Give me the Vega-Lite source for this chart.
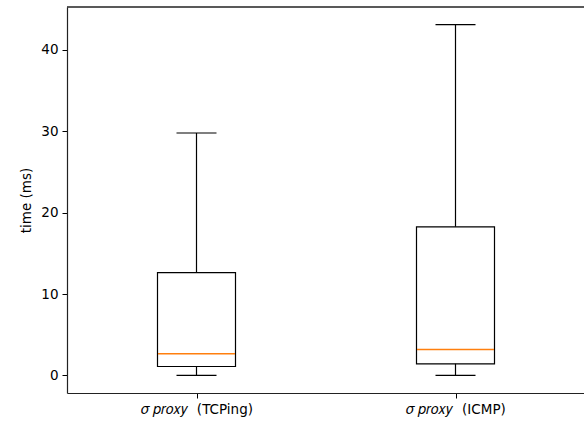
{
  "$schema": "https://vega.github.io/schema/vega-lite/v6.json",
  "width": 517,
  "height": 386,
  "autosize": {"type": "none"},
  "padding": {"left": 67, "top": 7, "right": 0, "bottom": 31},
  "background": "white",
  "config": {
    "view": {"stroke": null},
    "font": "DejaVu Sans",
    "axis": {
      "domain": true,
      "domainColor": "#222",
      "domainWidth": 1.2,
      "grid": false,
      "tickColor": "#000",
      "tickSize": 5,
      "tickWidth": 1,
      "labelPadding": 4,
      "labelFont": "DejaVu Sans",
      "labelFontSize": 13.5,
      "labelColor": "#000",
      "titleFont": "DejaVu Sans",
      "titleFontSize": 13.5,
      "titleFontWeight": "normal",
      "titleColor": "#000"
    }
  },
  "data": {
    "values": [
      {"method": "𝜎 𝑝𝑟𝑜𝑥𝑦\u00a0\u00a0(TCPing)", "lower": 0, "q1": 1.1, "median": 2.66, "q3": 12.64, "upper": 29.78},
      {"method": "𝜎 𝑝𝑟𝑜𝑥𝑦\u00a0\u00a0(ICMP)", "lower": 0, "q1": 1.43, "median": 3.19, "q3": 18.25, "upper": 43.1}
    ]
  },
  "encoding": {
    "x": {
      "field": "method",
      "type": "nominal",
      "sort": null,
      "scale": {"type": "point", "padding": 0.5, "range": [0, 518]},
      "axis": {"title": null, "labelAngle": 0}
    }
  },
  "layer": [
    {
      "mark": {"type": "rule", "color": "#000", "strokeWidth": 1.2},
      "encoding": {
        "y": {
          "field": "lower",
          "type": "quantitative",
          "scale": {"domain": [-2.155, 45.255], "nice": false, "zero": false},
          "axis": {"title": "time (ms)", "values": [0, 10, 20, 30, 40], "titlePadding": 7, "orient": "left"}
        },
        "y2": {"field": "upper"}
      }
    },
    {
      "mark": {"type": "rule", "color": "#222", "strokeWidth": 1.2},
      "encoding": {
        "x": null,
        "y": {"datum": 45.255, "type": "quantitative", "axis": {"orient": "left", "title": "time (ms)", "values": [0, 10, 20, 30, 40], "titlePadding": 7}}
      }
    },
    {
      "mark": {"type": "bar", "fill": "white", "stroke": "#000", "strokeWidth": 1.2, "size": 78},
      "encoding": {
        "y": {"field": "q1", "type": "quantitative"},
        "y2": {"field": "q3"}
      }
    },
    {
      "mark": {"type": "tick", "color": "#ff7f0e", "size": 77, "thickness": 1.5, "opacity": 1},
      "encoding": {"y": {"field": "median", "type": "quantitative"}}
    },
    {
      "mark": {"type": "tick", "color": "#000", "size": 40, "thickness": 1.2, "opacity": 1},
      "encoding": {"y": {"field": "lower", "type": "quantitative"}}
    },
    {
      "mark": {"type": "tick", "color": "#000", "size": 40, "thickness": 1.2, "opacity": 1},
      "encoding": {"y": {"field": "upper", "type": "quantitative"}}
    }
  ]
}
